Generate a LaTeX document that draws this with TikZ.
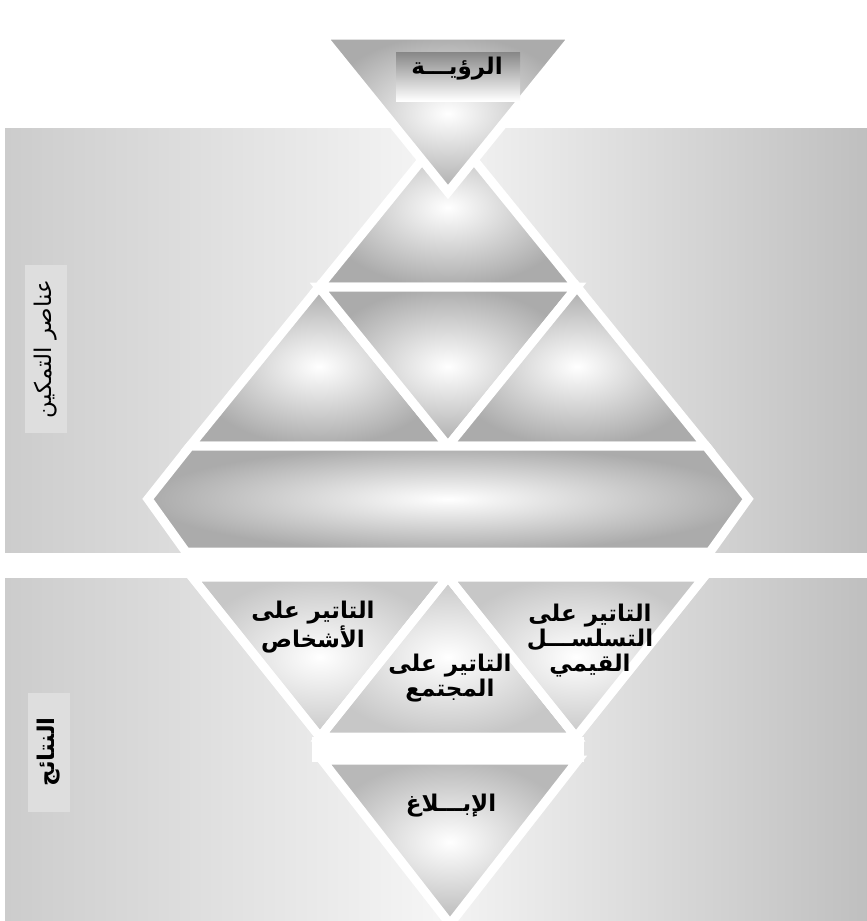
\documentclass[tikz,border=0pt]{standalone}
\usepackage{fontspec}
\newfontfamily\arabicfont[Script=Arabic]{DejaVu Sans}
\TeXXeTstate=1

\begin{document}
\begin{tikzpicture}[x=1pt,y=-1pt,
  piece/.style={draw=white,line width=9pt,line join=miter,inner color=white,outer color=black!33},
  band/.style={left color=black!20,right color=black!25,middle color=black!4},
  sidebox/.style={fill=black!13,inner sep=0pt,rotate=90,minimum height=42pt},
  lbl/.style={font=\arabicfont\bfseries\fontsize{23}{25}\selectfont,align=center,inner sep=0pt}]
\useasboundingbox (0,0) rectangle (867,921);
\fill[white] (0,0) rectangle (867,921);
% bands
\shade[band] (5,128) rectangle (867,552);
\shade[band] (5,578) rectangle (867,921);
% pyramid
\shadedraw[piece] (448,128) -- (577,287) -- (319,287) -- cycle;
\shadedraw[piece] (319,287) -- (448,446) -- (190,446) -- cycle;
\shadedraw[piece] (319,287) -- (577,287) -- (448,446) -- cycle;
\shadedraw[piece] (577,287) -- (706,446) -- (448,446) -- cycle;
\shadedraw[piece] (190,446) -- (706,446) -- (748,499) -- (710,552) -- (186,552) -- (148,499) -- cycle;
% vision
\shadedraw[piece] (321,35) -- (575,35) -- (448,192) -- cycle;
\node[top color=black!47,bottom color=white,minimum width=124pt,minimum height=49pt,inner sep=0pt] (visbox) at (458,76.5) {};
\node[lbl] (vision) at (457,69) {\beginR الرؤيـــة\endR};
% results
\shadedraw[piece,outer color=black!22] (192,577) -- (448,577) -- (320,737) -- cycle;
\shadedraw[piece,outer color=black!22] (448,577) -- (576,737) -- (320,737) -- cycle;
\shadedraw[piece,outer color=black!22] (448,577) -- (704,577) -- (576,737) -- cycle;
\fill[white] (312,737) rectangle (584,762);
\shadedraw[piece,outer color=black!28] (322,760) -- (578,760) -- (450,924) -- cycle;
\node[lbl] (persons) at (313,627) {\beginR التاتير على\endR\\\beginR الأشخاص\endR};
\node[lbl] (society) at (450,678) {\beginR التاتير على\endR\\\beginR المجتمع\endR};
\node[lbl] (chain) at (590,641) {\beginR التاتير على\endR\\\beginR التسلســـل\endR\\\beginR القيمي\endR};
\node[lbl] (ibla) at (451,806) {\beginR الإبـــلاغ\endR};
% side labels
\node[sidebox,minimum width=168pt,font=\arabicfont\fontsize{23}{25}\selectfont] (enable) at (46,349) {\beginR عناصر التمكين\endR};
\node[sidebox,minimum width=119pt,font=\arabicfont\bfseries\fontsize{23}{25}\selectfont] (results) at (49,752) {\beginR النتائج\endR};
\end{tikzpicture}
\end{document}
